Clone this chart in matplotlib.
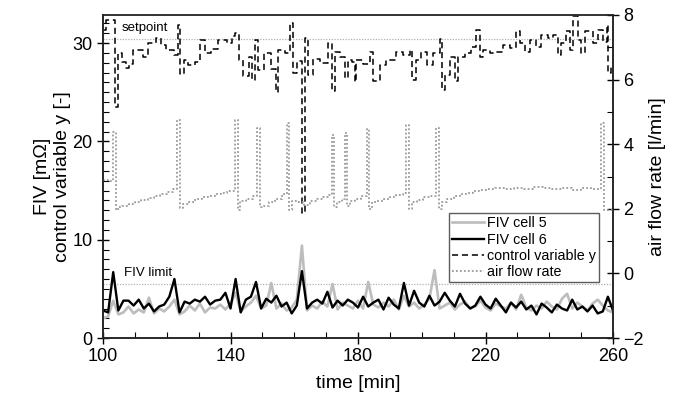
import numpy as np
import matplotlib
matplotlib.use("Agg")
import matplotlib.pyplot as plt
from matplotlib.ticker import MultipleLocator

plt.rcParams['font.family'] = ['Liberation Sans', 'DejaVu Sans']

# --- data ---
fiv_t = np.arange(100, 260.01, 1.6)
fiv_cell6 = [2.8, 2.6, 6.7, 2.8, 3.8, 3.8, 3.3, 3.9, 3.0, 3.5,
             2.7, 3.2, 3.4, 4.2, 6.0, 2.6, 3.7, 3.5, 3.9, 3.7,
             4.2, 3.4, 3.8, 3.9, 4.6, 3.0, 6.0, 2.6, 3.9, 4.2,
             5.7, 3.0, 4.0, 3.6, 4.3, 3.2, 3.6, 2.5, 3.3, 6.8,
             3.0, 3.6, 3.9, 3.5, 4.7, 3.1, 3.8, 3.3, 3.9, 3.6,
             3.1, 4.2, 3.2, 3.6, 3.9, 2.9, 4.1, 3.4, 3.0, 5.6,
             3.3, 4.8, 3.6, 3.2, 4.3, 3.3, 3.7, 4.6, 3.8, 3.2,
             4.5, 3.5, 3.0, 3.3, 4.2, 3.4, 3.0, 4.0, 3.3, 2.6,
             3.6, 3.1, 3.7, 2.9, 3.3, 2.4, 3.5, 3.1, 2.6, 3.4,
             3.0, 2.8, 3.9, 2.9, 3.2, 2.7, 3.3, 2.5, 2.7, 4.2,
             2.8]
fiv_cell5 = [2.0, 2.2, 3.8, 2.4, 2.6, 3.2, 2.5, 2.9, 2.6, 4.1,
             2.5, 3.0, 2.7, 3.2, 3.9, 2.4, 2.7, 3.3, 2.8, 3.5,
             2.6, 3.1, 3.0, 3.4, 2.9, 3.5, 4.6, 2.7, 3.2, 3.6,
             4.3, 3.0, 3.3, 5.6, 3.0, 3.5, 2.8, 3.1, 3.9, 9.4,
             2.8, 3.3, 3.0, 3.7, 3.2, 5.5, 2.9, 3.6, 3.3, 3.0,
             3.8, 3.0, 5.7, 3.4, 3.1, 3.6, 3.2, 3.9, 2.9, 4.3,
             3.2, 3.6, 3.0, 3.4, 4.0, 6.9, 3.0, 3.3, 3.6, 2.9,
             3.4, 3.7, 3.0, 3.2, 3.8, 3.1, 2.8, 3.5, 3.2, 3.0,
             3.6, 2.9, 4.4, 3.1, 2.8, 3.3, 3.0, 3.7, 3.2, 2.9,
             4.0, 4.5, 3.0, 3.6, 3.2, 2.8, 3.5, 3.9, 3.3, 2.8,
             2.6]

# control variable y (step start times / values)
ctrl_t = [100, 101, 103.8, 104.7, 105.8, 107.3, 108.3, 109.4, 112.5, 114,
          116.6, 118.2, 119.8, 122.4, 123.4, 124.2, 125.3, 126.8, 128.9, 130.5,
          132.1, 134, 136.2, 138.8, 140.5, 141.5, 142.6, 144, 145.7, 146.8,
          147.8, 148.5, 150.6, 152.7, 154.3, 155, 157.1, 158.7, 159.7, 160.8,
          162.5, 163.3, 164.4, 165.9, 168, 170.7, 171.7, 172.8, 174.4, 175.9,
          176.9, 178, 179, 179.5, 181.6, 183.7, 184.7, 186.8, 188.9, 192,
          194.2, 196.2, 196.8, 198.3, 199.9, 201.5, 203.6, 205.6, 206.2, 207.2,
          208.8, 210.3, 211.4, 213.5, 215.6, 217.1, 218.2, 219.2, 221.3, 223.4,
          225.5, 227.6, 229.7, 230.7, 232.3, 233.9, 235.9, 237.5, 239.6, 241.2,
          242.8, 243.8, 245.4, 246.4, 247.4, 249, 250, 251.1, 253.7, 255.3,
          256.9, 258, 258.4, 259.5]
ctrl_v = [31.3, 32.3, 23.5, 29.0, 28.1, 27.5, 27.9, 29.3, 28.6, 30.0,
          30.5, 29.8, 29.3, 28.8, 31.8, 26.8, 28.3, 27.8, 28.1, 30.3,
          29.0, 29.4, 30.3, 30.0, 30.7, 31.0, 28.3, 26.6, 28.6, 26.2,
          30.3, 27.3, 29.0, 27.4, 25.0, 29.3, 29.0, 32.0, 27.0, 28.2,
          12.7, 30.5, 26.7, 28.4, 28.0, 30.0, 25.1, 29.1, 28.6, 26.4,
          28.3, 28.1, 26.0, 28.3, 27.9, 29.1, 26.1, 27.8, 28.3, 29.1,
          28.8, 29.3, 26.2, 28.3, 29.1, 27.8, 29.0, 30.4, 25.2, 26.7,
          28.6, 26.1, 28.6, 29.0, 29.6, 31.3, 28.6, 29.3, 29.0, 29.1,
          29.8, 29.5, 31.2, 30.0, 29.1, 30.3, 29.6, 30.8, 30.5, 30.8,
          28.8, 30.0, 31.2, 29.3, 32.7, 30.3, 29.0, 31.2, 30.0, 31.3,
          30.1, 31.8, 27.0, 27.9]

# air flow rate [l/min]
air_t = [100, 101.6, 103.2, 104.0, 104.8, 106, 108, 110, 112, 114,
         116, 118, 120, 122, 123.3, 124.1, 125, 127, 129, 131,
         133, 135, 137, 139, 141.4, 142.2, 143, 145, 147, 148.4,
         149.2, 150, 152, 154, 156, 157.6, 158.4, 159.2, 161, 163,
         165, 167, 169, 171, 171.7, 172.5, 173.3, 175.1, 175.9, 176.7,
         177.5, 179, 181, 182.7, 183.5, 184.3, 186, 188, 190, 192,
         194, 195.2, 196, 196.8, 198.5, 200.5, 202.5, 204.6, 205.4, 206.2,
         208, 210, 212, 214, 216, 218, 220, 223, 226, 229,
         232, 235, 238, 241, 244, 247, 250, 253, 256.3, 257.1,
         260]
air_v = [2.89, 2.85, 4.37, 1.96, 2.05, 2.10, 2.15, 2.20, 2.28, 2.33,
         2.40, 2.45, 2.52, 2.60, 4.74, 2.02, 2.15, 2.22, 2.30, 2.35,
         2.40, 2.45, 2.50, 2.55, 4.74, 1.96, 2.25, 2.30, 2.40, 4.50,
         2.05, 2.10, 2.20, 2.30, 2.45, 4.65, 1.96, 2.25, 2.20, 2.12,
         2.25, 2.30, 2.35, 2.42, 4.28, 2.05, 2.20, 2.30, 4.34, 2.10,
         2.25, 2.30, 2.40, 4.46, 2.00, 2.20, 2.25, 2.30, 2.35, 2.42,
         2.50, 4.60, 2.00, 2.20, 2.28, 2.35, 2.40, 4.50, 1.98, 2.20,
         2.30, 2.40, 2.45, 2.50, 2.55, 2.58, 2.60, 2.63, 2.60, 2.65,
         2.62, 2.66, 2.63, 2.60, 2.64, 2.58, 2.63, 2.60, 4.65, 1.96,
         1.96]

setpoint = 30.4
fiv_limit = 5.5
x_ticks = [100, 140, 180, 220, 260]

# --- plot ---
fig = plt.figure(figsize=(6.76, 4.01), dpi=100)
ax = fig.add_axes([0.1524, 0.1571, 0.7544, 0.8055])
ax2 = ax.twinx()

ax.axhline(setpoint, color='#b0b0b0', lw=0.9, ls=(0, (1, 1.2)), zorder=1)
ax.axhline(fiv_limit, color='#b0b0b0', lw=0.9, ls=(0, (1, 1.2)), zorder=1)

l5, = ax.plot(fiv_t, fiv_cell5, color='#bdbdbd', lw=1.9, label='FIV cell 5')
l6, = ax.plot(fiv_t, fiv_cell6, color='black', lw=1.7, label='FIV cell 6')
lc, = ax.plot(ctrl_t, ctrl_v, color='black', lw=1.1, ls=(0, (4, 2.5)),
              drawstyle='steps-post', label='control variable y')
la, = ax2.plot(air_t, air_v, color='#9a9a9a', lw=1.3, ls=(0, (1, 1.2)),
               drawstyle='steps-post', label='air flow rate')

ax.text(106, 31.5, 'setpoint', fontsize=9.5, va='center')
ax.text(106.5, 6.6, 'FIV limit', fontsize=9.5, va='center')

ax.set_xlim(100, 260)
ax.set_ylim(0, 32.85)
ax2.set_ylim(-2, 8)

ax.set_xticks(x_ticks)
ax.xaxis.set_minor_locator(MultipleLocator(10))
ax.yaxis.set_major_locator(MultipleLocator(10))
ax.yaxis.set_minor_locator(MultipleLocator(1))
ax2.yaxis.set_major_locator(MultipleLocator(2))
ax2.yaxis.set_minor_locator(MultipleLocator(1))

for a in (ax, ax2):
    a.tick_params(which='major', direction='inout', length=8, width=1, labelsize=13)
    a.tick_params(which='minor', direction='in', length=4, width=0.8)
    for s in a.spines.values():
        s.set_linewidth(1.1)
        s.set_color('#222222')
ax.spines['top'].set_color('#555555')

ax.set_xlabel('time [min]', fontsize=14, labelpad=7)
ax.set_ylabel('FIV [mΩ]\ncontrol variable y [-]', fontsize=14, labelpad=1)
ax2.set_ylabel('air flow rate [l/min]', fontsize=14, labelpad=4)

leg = ax2.legend(handles=[l5, l6, lc, la], loc='lower right',
                 bbox_to_anchor=(0.973, 0.172), fontsize=10.3, frameon=True,
                 fancybox=False, edgecolor='#333333', handlelength=2.2,
                 handletextpad=0.2, borderpad=0.25, labelspacing=0.15,
                 borderaxespad=0)
leg.get_frame().set_linewidth(1.0)

fig.savefig('out.png', dpi=100)
